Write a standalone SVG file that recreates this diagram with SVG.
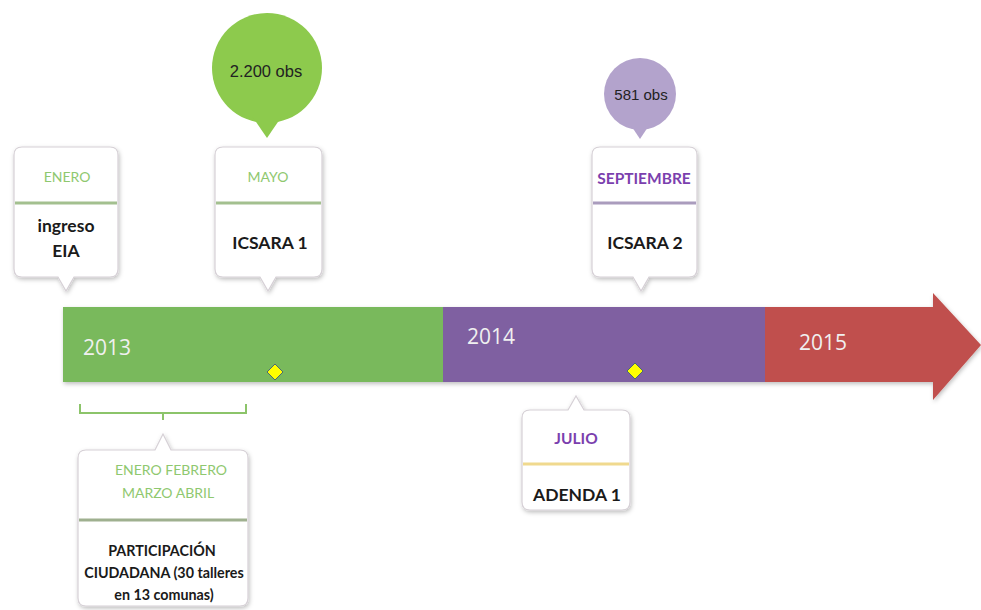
<svg xmlns="http://www.w3.org/2000/svg" width="981" height="610" viewBox="0 0 981 610">
<defs>
<filter id="sh" x="-20%" y="-20%" width="140%" height="140%">
<feDropShadow dx="1" dy="2" stdDeviation="2" flood-color="#000" flood-opacity="0.25"/>
</filter>
<style>
.box{fill:#fff;stroke:#d6d0d6;stroke-width:1.2;filter:url(#sh)}
.t{font-family:Lato,"Open Sans","Liberation Sans",sans-serif;text-anchor:middle}
.mg{fill:#8fc86f;font-size:14px}
.mp{fill:#7b3fae;font-size:15.5px;font-weight:bold}
.b{fill:#1a1a1a;font-size:17.5px;font-weight:bold}
.s{fill:#1a1a1a;font-size:14.3px;font-weight:bold}
.yr{font-family:"Open Sans","Liberation Sans",sans-serif;font-size:21px;fill:#f0f0f0}
.obs{font-family:"Liberation Sans",Arial,sans-serif;text-anchor:middle;fill:#222}
.dia{fill:#ffff00;stroke:#4a6a70;stroke-width:1}
</style>
</defs>
<rect width="981" height="610" fill="#fff"/>
<g id="timeline" filter="url(#sh)">
<rect x="63" y="307" width="381" height="75" fill="#79b95b"/>
<rect x="443" y="307" width="323" height="75" fill="#7f61a1"/>
<path d="M765,307 H933 V293 L981,345 L933,400 V382 H765 Z" fill="#c0504d"/>
</g>
<g id="years">
<text class="yr" x="83" y="355">2013</text>
<text class="yr" x="467" y="344">2014</text>
<text class="yr" x="799" y="350">2015</text>
</g>
<g id="markers">
<path class="dia" d="M275,364 L283,372 L275,380 L267,372 Z"/>
<path class="dia" d="M635,363 L643,371 L635,379 L627,371 Z"/>
</g>
<g id="connectors">
<path d="M80,404 V413 H246 V404 M163,413 V420" fill="none" stroke="#8cc46a" stroke-width="2"/>
</g>
<g id="balloon-2200">
<circle cx="267" cy="68" r="55" fill="#8dca4d"/>
<path d="M252,116 L267,138 L282,116 Z" fill="#8dca4d"/>
<text class="obs" x="266" y="77" font-size="16.5">2.200 obs</text>
</g>
<g id="balloon-581">
<circle cx="640" cy="94" r="36" fill="#b3a3cc"/>
<path d="M630,124 L640,139 L650,124 Z" fill="#b3a3cc"/>
<text class="obs" x="641" y="100" font-size="15">581 obs</text>
</g>
<g id="enero">
<path class="box" d="M22,147 H110 Q118,147 118,155 V269 Q118,277 110,277 H74 L66,291 L58,277 H22 Q14,277 14,269 V155 Q14,147 22,147 Z"/>
<line x1="15" y1="203" x2="117" y2="203" stroke="#a3c08f" stroke-width="3"/>
<text class="t mg" x="67" y="182">ENERO</text>
<text class="t b" x="66" y="232">ingreso</text>
<text class="t b" x="66" y="257">EIA</text>
</g>
<g id="mayo">
<path class="box" d="M223,147 H314 Q322,147 322,155 V269 Q322,277 314,277 H276 L268,291 L260,277 H223 Q215,277 215,269 V155 Q215,147 223,147 Z"/>
<line x1="216" y1="203" x2="321" y2="203" stroke="#a3c08f" stroke-width="3"/>
<text class="t mg" x="268" y="182">MAYO</text>
<text class="t b" x="270" y="249">ICSARA 1</text>
</g>
<g id="septiembre">
<path class="box" d="M600,147 H689 Q697,147 697,155 V269 Q697,277 689,277 H649 L641,291 L633,277 H600 Q592,277 592,269 V155 Q592,147 600,147 Z"/>
<line x1="593" y1="203" x2="696" y2="203" stroke="#aa9cbd" stroke-width="3"/>
<text class="t mp" x="644" y="184">SEPTIEMBRE</text>
<text class="t b" x="645" y="249">ICSARA 2</text>
</g>
<g id="participacion">
<path class="box" d="M86,450 H155 L163,434 L171,450 H240 Q248,450 248,458 V598 Q248,606 240,606 H86 Q78,606 78,598 V458 Q78,450 86,450 Z"/>
<line x1="79" y1="520" x2="247" y2="520" stroke="#9fb08f" stroke-width="3"/>
<text class="t mg" x="171" y="475">ENERO FEBRERO</text>
<text class="t mg" x="168" y="498">MARZO ABRIL</text>
<text class="t s" x="162" y="556">PARTICIPACIÓN</text>
<text class="t s" x="164" y="578">CIUDADANA (30 talleres</text>
<text class="t s" x="164" y="600">en 13 comunas)</text>
</g>
<g id="julio">
<path class="box" d="M530,410 H568 L576,396 L584,410 H622 Q630,410 630,418 V502 Q630,510 622,510 H530 Q522,510 522,502 V418 Q522,410 530,410 Z"/>
<line x1="523" y1="464" x2="629" y2="464" stroke="#f0d98e" stroke-width="3"/>
<text class="t mp" x="576" y="444">JULIO</text>
<text class="t b" x="577" y="501">ADENDA 1</text>
</g>
</svg>
